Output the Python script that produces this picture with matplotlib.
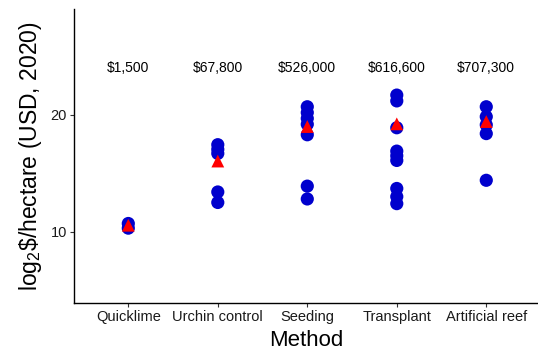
import numpy as np
import matplotlib
matplotlib.use("Agg")
import matplotlib.pyplot as plt

plt.rcParams['font.family'] = ['Liberation Sans', 'DejaVu Sans']
plt.rcParams['mathtext.fontset'] = 'custom'
plt.rcParams['mathtext.rm'] = 'Liberation Sans'
plt.rcParams['mathtext.it'] = 'Liberation Sans:italic'

# Restoration methods and per-project costs (log2 USD per hectare, 2020)
methods = ["Quicklime", "Urchin control", "Seeding", "Transplant", "Artificial reef"]
quicklime = [10.7, 10.3]
urchin_control = [17.45, 17.05, 16.7, 13.4, 12.5]
seeding = [20.7, 20.2, 19.7, 19.2, 18.3, 13.9, 12.8]
transplant = [21.7, 21.2, 18.9, 16.9, 16.5, 16.1, 13.7, 13.0, 12.4]
artificial_reef = [20.7, 19.85, 19.15, 18.4, 14.4]
# Mean cost per hectare (USD) shown above each method
mean_cost = [1500, 67800, 526000, 616600, 707300]
cost_labels = ["$1,500", "$67,800", "$526,000", "$616,600", "$707,300"]
label_height = 24.0

groups = [quicklime, urchin_control, seeding, transplant, artificial_reef]

fig = plt.figure(figsize=(5.38, 3.57), dpi=100)
ax = fig.add_axes([0.1375, 0.15, 0.8625, 0.825])

for i, vals in enumerate(groups):
    x = np.full(len(vals), i + 1)
    ax.scatter(x, vals, s=90, color="#0000CD", edgecolors="none", zorder=3)

ax.scatter(np.arange(1, 6), np.log2(mean_cost), marker="^", s=85,
           color="#FF0000", edgecolors="none", zorder=4)

for i, lab in enumerate(cost_labels):
    ax.text(i + 1, label_height, lab.replace("$", r"\$"), ha="center", va="center",
            fontsize=10, color="black")

ax.set_xlim(0.393, 5.578)
ax.set_ylim(3.85, 29.08)
ax.set_xticks(np.arange(1, 6))
ax.set_xticklabels(methods)
ax.set_yticks([10, 20])

for s in ["top", "right"]:
    ax.spines[s].set_visible(False)
for s in ["left", "bottom"]:
    ax.spines[s].set_linewidth(1.0)
    ax.spines[s].set_color("black")

ax.tick_params(axis="both", length=3, width=0.8, color="#333333",
               labelsize=10.5, labelcolor="#1a1a1a", pad=2)

ax.set_xlabel("Method", fontsize=16, labelpad=4)
ax.set_ylabel(r"log$_2$\$/hectare (USD, 2020)", fontsize=16.5, labelpad=5)

fig.savefig("out.png", dpi=100)
